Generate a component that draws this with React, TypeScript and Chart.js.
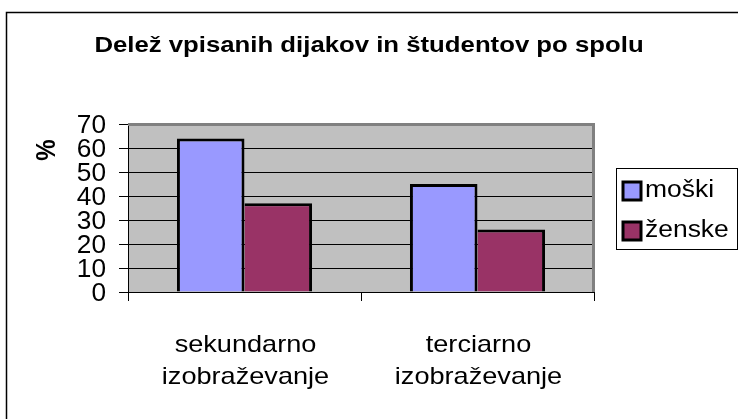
import React, { useEffect, useRef } from "react";
import { Chart, registerables } from "chart.js";

Chart.register(...registerables);

// ---- data ----
const categoryLines: string[][] = [
  ["sekundarno", "izobraževanje"],
  ["terciarno", "izobraževanje"],
];
const seriesNames: string[] = ["moški", "ženske"];
const moskiValues: number[] = [64, 45];
const zenskeValues: number[] = [37, 26];
const yTickValues: number[] = [0, 10, 20, 30, 40, 50, 60, 70];
const chartTitle = "Delež vpisanih dijakov in študentov po spolu";
const yAxisTitle = "%";
const seriesColors: string[] = ["#9999FF", "#993366"];

const FONT = "'Liberation Sans', Arial, Helvetica, sans-serif";

function drawText(
  ctx: CanvasRenderingContext2D,
  s: string,
  x: number,
  y: number,
  size: number,
  bold: boolean,
  align: CanvasTextAlign,
  sx: number
) {
  ctx.save();
  ctx.font = `${bold ? "bold " : ""}${size}px ${FONT}`;
  ctx.textAlign = align;
  ctx.textBaseline = "alphabetic";
  ctx.fillStyle = "#000";
  ctx.translate(x, y);
  ctx.scale(sx, 1);
  ctx.fillText(s, 0, 0);
  ctx.restore();
}

const decorPlugin = {
  id: "decor",
  beforeDraw(chart: any) {
    const { ctx, chartArea } = chart;
    ctx.save();
    ctx.fillStyle = "#fff";
    ctx.fillRect(0, 0, chart.width, chart.height);
    ctx.fillStyle = "#C0C0C0";
    ctx.fillRect(
      chartArea.left,
      chartArea.top,
      chartArea.right - chartArea.left,
      chartArea.bottom - chartArea.top
    );
    ctx.restore();
  },
  afterDatasetsDraw(chart: any) {
    const { ctx, chartArea } = chart;
    ctx.save();
    ctx.strokeStyle = "#808080";
    ctx.lineWidth = 3;
    ctx.beginPath();
    ctx.moveTo(chartArea.left, chartArea.top + 0.5);
    ctx.lineTo(chartArea.right - 0.5, chartArea.top + 0.5);
    ctx.lineTo(chartArea.right - 0.5, chartArea.bottom);
    ctx.stroke();
    ctx.restore();
  },
  afterDraw(chart: any) {
    const { ctx } = chart;
    const xs = chart.scales.x;
    const ys = chart.scales.y;

    // outer frame (left + top)
    ctx.save();
    ctx.strokeStyle = "#000";
    ctx.lineWidth = 1.5;
    ctx.beginPath();
    ctx.moveTo(6.5, chart.height);
    ctx.lineTo(6.5, 12.5);
    ctx.lineTo(chart.width, 12.5);
    ctx.stroke();
    ctx.restore();

    // title
    drawText(ctx, chartTitle, 369, 52, 22, true, "center", 1.17);

    // y axis title
    ctx.save();
    ctx.font = `bold 24px ${FONT}`;
    ctx.textAlign = "center";
    ctx.textBaseline = "middle";
    ctx.fillStyle = "#000";
    ctx.translate(48, 150);
    ctx.scale(1.12, 1);
    ctx.rotate(-Math.PI / 2);
    ctx.fillText(yAxisTitle, 0, 0);
    ctx.restore();

    // y tick labels
    yTickValues.forEach((v) => {
      const y = ys.getPixelForValue(v);
      drawText(ctx, String(v), 106, y + 9, 25, false, "right", 1.05);
    });

    // category labels
    categoryLines.forEach((lines, i) => {
      const x = xs.getPixelForValue(i);
      lines.forEach((ln, j) => {
        drawText(ctx, ln, x + 1, 352 + j * 32, 24, false, "center", 1.13);
      });
    });

    // legend
    ctx.save();
    ctx.strokeStyle = "#000";
    ctx.lineWidth = 1;
    ctx.strokeRect(616.5, 168.5, 121, 81);
    ctx.restore();
    seriesNames.forEach((name, i) => {
      const top = 182 + i * 40;
      ctx.save();
      ctx.fillStyle = seriesColors[i];
      ctx.fillRect(623, top, 18, 18);
      ctx.strokeStyle = "#000";
      ctx.lineWidth = 3;
      ctx.strokeRect(623, top, 18, 18);
      ctx.restore();
      drawText(ctx, name, 645, top + 15, 23, false, "left", 1.15);
    });
  },
};

export default function App() {
  const ref = useRef<HTMLCanvasElement | null>(null);

  useEffect(() => {
    if (!ref.current) return;
    const chart = new Chart(ref.current, {
      type: "bar",
      data: {
        labels: categoryLines.map((l) => l.join(" ")),
        datasets: [
          {
            label: seriesNames[0],
            data: moskiValues,
            backgroundColor: seriesColors[0],
            borderColor: "#000",
            borderWidth: { top: 3, left: 3, right: 3, bottom: 0 } as any,
            borderSkipped: false as any,
            categoryPercentage: 0.58,
            barPercentage: 1,
          },
          {
            label: seriesNames[1],
            data: zenskeValues,
            backgroundColor: seriesColors[1],
            borderColor: "#000",
            borderWidth: { top: 3, left: 0, right: 3, bottom: 0 } as any,
            borderSkipped: false as any,
            categoryPercentage: 0.58,
            barPercentage: 1,
          },
        ],
      },
      options: {
        animation: false,
        responsive: false,
        maintainAspectRatio: false,
        devicePixelRatio: 1,
        layout: { padding: { left: 0, top: 124, right: 144, bottom: 0 } },
        plugins: {
          legend: { display: false },
          title: { display: false },
          tooltip: { enabled: false },
        },
        scales: {
          x: {
            grid: {
              display: true,
              drawOnChartArea: false,
              drawTicks: true,
              tickLength: 9,
              color: "#000",
              offset: true,
            },
            border: { display: true, color: "#000", width: 1 },
            ticks: { display: false },
            afterFit: (s: any) => {
              s.height = 127;
            },
          },
          y: {
            min: 0,
            max: 70,
            ticks: { display: false, stepSize: 10 },
            grid: {
              color: "#000",
              lineWidth: 1,
              drawTicks: true,
              tickLength: 9,
            },
            border: { display: true, color: "#000", width: 1 },
            afterFit: (s: any) => {
              s.width = 128;
            },
          },
        },
      },
      plugins: [decorPlugin],
    });
    return () => chart.destroy();
  }, []);

  return (
    <div
      style={{
        position: "fixed",
        left: 0,
        top: 0,
        width: 738,
        height: 419,
        background: "#fff",
      }}
    >
      <canvas ref={ref} width={738} height={419} style={{ display: "block" }} />
    </div>
  );
}
